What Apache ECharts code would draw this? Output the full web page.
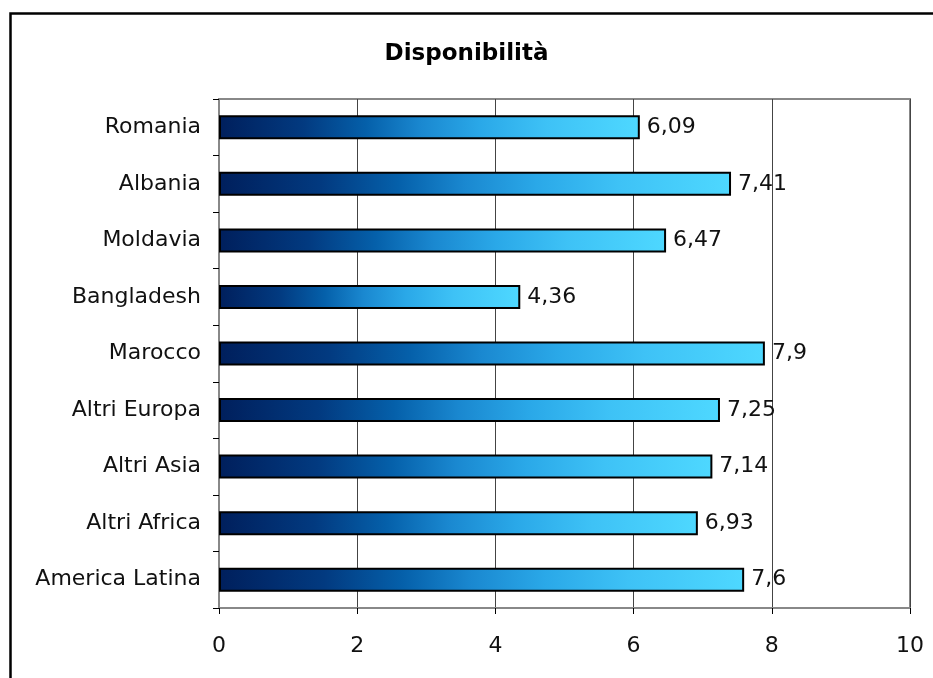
<!DOCTYPE html>
<html>
<head>
<meta charset="utf-8">
<script src="https://cdn.jsdelivr.net/npm/echarts@6/dist/echarts.min.js"></script>
<style>
  html, body { margin: 0; padding: 0; background: #fff; }
  #chart { width: 933px; height: 678px; }
</style>
</head>
<body>
<div id="chart"></div>
<script>
// Countries, top to bottom
const categories = ['Romania', 'Albania', 'Moldavia', 'Bangladesh', 'Marocco',
  'Altri Europa', 'Altri Asia', 'Altri Africa', 'America Latina'];
// Availability scores
const values = [6.09, 7.41, 6.47, 4.36, 7.9, 7.25, 7.14, 6.93, 7.6];
// Horizontal axis ticks
const xTicks = [0, 2, 4, 6, 8, 10];

const font = 'Verdana, "DejaVu Sans", sans-serif';
const fmt = v => String(v).replace('.', ',');

const chart = echarts.init(document.getElementById('chart'), null, { renderer: 'canvas' });

chart.setOption({
  animation: false,
  backgroundColor: '#fff',
  title: {
    text: 'Disponibilità',
    left: 'center',
    top: 38,
    textStyle: { fontFamily: font, fontSize: 23, fontWeight: 'bold', color: '#000' }
  },
  graphic: [{
    type: 'rect',
    shape: { x: 10.5, y: 13.5, width: 1000, height: 1000 },
    style: { fill: 'none', stroke: '#000', lineWidth: 2.5 },
    silent: true
  }],
  grid: {
    left: 219, top: 99, right: 23, bottom: 70,
    show: true, borderColor: '#888', borderWidth: 2, backgroundColor: 'transparent'
  },
  xAxis: {
    type: 'value',
    min: xTicks[0], max: xTicks[xTicks.length - 1], interval: 2,
    axisLine: { show: true, lineStyle: { color: '#888', width: 2 } },
    axisTick: { show: true, length: 6, lineStyle: { color: '#000', width: 1 } },
    axisLabel: { margin: 27, color: '#111', fontFamily: font, fontSize: 22, formatter: v => fmt(v) },
    splitLine: { show: true, lineStyle: { color: '#444', width: 1 } }
  },
  yAxis: {
    type: 'category',
    data: categories,
    inverse: true,
    axisLine: { show: true, lineStyle: { color: '#888', width: 2 } },
    axisTick: { show: true, length: 6, lineStyle: { color: '#000', width: 1 } },
    axisLabel: { margin: 18, color: '#111', fontFamily: font, fontSize: 22 },
    splitLine: { show: false }
  },
  series: [{
    type: 'bar',
    data: values,
    barWidth: 24,
    itemStyle: {
      borderColor: '#000',
      borderWidth: 2,
      color: new echarts.graphic.LinearGradient(0, 0, 1, 0, [
        { offset: 0, color: '#001f5c' },
        { offset: 0.2, color: '#023a80' },
        { offset: 0.35, color: '#0560aa' },
        { offset: 0.48, color: '#1a88d0' },
        { offset: 0.62, color: '#2aa8e8' },
        { offset: 0.78, color: '#3ec2f6' },
        { offset: 1, color: '#4ed8ff' }
      ])
    },
    label: {
      show: true,
      position: 'right',
      distance: 7,
      color: '#111',
      fontFamily: font,
      fontSize: 22,
      formatter: p => fmt(p.value)
    }
  }]
});
</script>
</body>
</html>
